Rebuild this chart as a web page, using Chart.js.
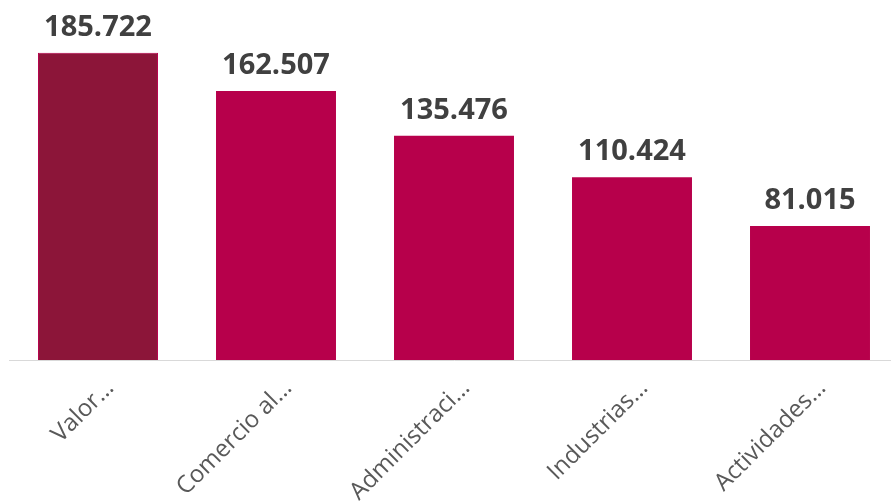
<!DOCTYPE html>
<html>
<head>
<meta charset="utf-8">
<script src="https://cdn.jsdelivr.net/npm/chart.js@4"></script>
<style>
  html, body { margin: 0; padding: 0; background: #fff; overflow: hidden; }
  #wrap { width: 900px; height: 501px; }
</style>
</head>
<body>
<div id="wrap"><canvas id="bars"></canvas></div>
<script>
// sectores, ordenados de mayor a menor
const categorias = ['Valor…', 'Comercio al…', 'Administraci…', 'Industrias…', 'Actividades…'];
const valores = [185722, 162507, 135476, 110424, 81015];
const colores = ['#8C1539', '#B7004B', '#B7004B', '#B7004B', '#B7004B'];

function conPuntos(n) {
  return String(n).replace(/\B(?=(\d{3})+(?!\d))/g, '.');
}

// etiquetas de valor encima de cada barra
const etiquetasValor = {
  id: 'etiquetasValor',
  afterDatasetsDraw(chart) {
    const ctx = chart.ctx;
    const meta = chart.getDatasetMeta(0);
    ctx.save();
    ctx.font = 'bold 29px "Open Sans"';
    ctx.fillStyle = '#404040';
    ctx.textAlign = 'center';
    ctx.textBaseline = 'alphabetic';
    meta.data.forEach((bar, i) => {
      ctx.fillText(conPuntos(valores[i]), bar.x, bar.y - 17);
    });
    ctx.restore();
  }
};

new Chart(document.getElementById('bars'), {
  type: 'bar',
  data: {
    labels: categorias,
    datasets: [{
      data: valores,
      backgroundColor: colores,
      borderColor: ['#B7004B', '#B7004B', '#B7004B', '#B7004B', '#B7004B'],
      borderWidth: [1, 0, 0, 0, 0],
      barPercentage: 1,
      categoryPercentage: 0.674
    }]
  },
  options: {
    responsive: true,
    maintainAspectRatio: false,
    animation: false,
    layout: { padding: { top: 29, left: 9, right: 1, bottom: 0 } },
    plugins: { legend: { display: false }, tooltip: { enabled: false } },
    scales: {
      x: {
        grid: { display: false },
        border: { display: true, color: '#d9d9d9', width: 1 },
        ticks: {
          autoSkip: false,
          minRotation: 45,
          maxRotation: 45,
          labelOffset: 12,
          padding: 6,
          color: '#595959',
          font: { family: '"Open Sans"', size: 24 }
        },
        afterFit(scale) { scale.height = 141; }
      },
      y: {
        display: false,
        min: 0,
        max: 200000
      }
    }
  },
  plugins: [etiquetasValor]
});
</script>
</body>
</html>
